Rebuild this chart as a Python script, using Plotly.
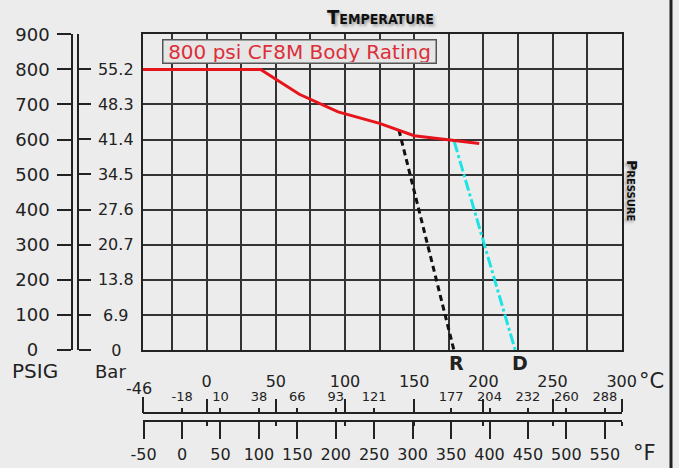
import plotly.graph_objects as go

W, H = 679, 468

# ---------------- data ----------------
series_name = "800 psi CF8M Body Rating"
rating_c = [-46, 39, 67, 95, 125, 150, 179, 197]
rating_psi = [800, 800, 729, 679, 646, 611, 597, 589]

r_c = [139, 178.7]
r_psi = [627, 0]
d_c = [179, 223]
d_psi = [594, 0]

psig_ticks = [0, 100, 200, 300, 400, 500, 600, 700, 800, 900]
bar_ticks = [0, 6.9, 13.8, 20.7, 27.6, 34.5, 41.4, 48.3, 55.2, 62.1]
c_major = [0, 50, 100, 150, 200, 250, 300]
c_edge = [-46]
f_ticks = [-50, 0, 50, 100, 150, 200, 250, 300, 350, 400, 450, 500, 550]
f_small = [0, 50, 100, 150, 200, 250, 350, 400, 450, 500, 550]

C_MIN, C_MAX = -46, 300
PSI_MAX = 900
BAR_PER_PSI = 0.0689476


def c2f(c):
    return c * 9 / 5 + 32


def f2c(f):
    return (f - 32) * 5 / 9


def px(x):
    return x / W


def py(y):
    return 1 - y / H


INK = "#222222"
GRID = "#333333"
BG = "#ececec"
FONT = "DejaVu Sans, Verdana, sans-serif"

psig_text = [str(v) if v else "0\u2007" for v in psig_ticks]
bar_text = []
for v in bar_ticks:
    s = ("%g" % v)
    if len(s) == 3:
        s = "\u2008" + s
    elif len(s) == 1:
        s = "\u2007\u2009" + s
    bar_text.append(s)

fig = go.Figure()


def dummy(xa, ya, xr):
    fig.add_trace(go.Scatter(x=xr, y=[0, 0], xaxis=xa, yaxis=ya, mode="markers",
                             marker=dict(opacity=0), hoverinfo="skip", showlegend=False))


# dummy traces so every helper axis is drawn
dummy("x2", "y", [C_MIN, C_MAX])
dummy("x3", "y", [C_MIN, C_MAX])
dummy("x4", "y", [C_MIN, C_MAX])
dummy("x5", "y", [c2f(C_MIN), c2f(C_MAX)])
dummy("x", "y2", [C_MIN, C_MAX])
dummy("x", "y3", [C_MIN, C_MAX])

# data lines
fig.add_trace(go.Scatter(x=r_c, y=r_psi, mode="lines", name="R",
                         line=dict(color="#111111", width=3, dash="6px,4px"), showlegend=False))
fig.add_trace(go.Scatter(x=d_c, y=d_psi, mode="lines", name="D",
                         line=dict(color="#1fe3e3", width=3, dash="11px,3px,3px,3px"), showlegend=False))
fig.add_trace(go.Scatter(x=rating_c, y=rating_psi, mode="lines", name=series_name,
                         line=dict(color="#e8141c", width=3), showlegend=False))

x_dom = [px(143), px(621.7)]
y_dom = [py(350), py(34.3)]
c_line_y = py(412.7)
f_line_y = py(421)

common_off = dict(showgrid=False, zeroline=False, fixedrange=True, automargin=False)

fig.update_layout(
    template="none",
    width=W, height=H, autosize=False,
    margin=dict(l=0, r=0, t=0, b=0, pad=0),
    paper_bgcolor=BG, plot_bgcolor=BG,
    font=dict(family=FONT, color=INK),
    xaxis=dict(domain=x_dom, range=[C_MIN, C_MAX], anchor="y",
               showgrid=True, gridcolor=GRID, gridwidth=1.6, tick0=0, dtick=25,
               showticklabels=False, ticks="", zeroline=False, automargin=False,
               showline=True, mirror=True, linecolor=INK, linewidth=2, fixedrange=True),
    yaxis=dict(domain=y_dom, range=[0, PSI_MAX], anchor="x",
               showgrid=True, gridcolor=GRID, gridwidth=1.6, tick0=0, dtick=100,
               showticklabels=False, ticks="", zeroline=False, automargin=False,
               showline=True, mirror=True, linecolor=INK, linewidth=2, fixedrange=True),
    # big Celsius labels
    xaxis2=dict(overlaying="x", anchor="free", position=c_line_y, side="top",
                range=[C_MIN, C_MAX], tickmode="array", tickvals=c_major,
                ticktext=[str(v) for v in c_major], ticks="outside", ticklen=13,
                tickwidth=1.5, tickcolor=INK, showline=True, linecolor=INK, linewidth=1.5,
                tickfont=dict(size=16, color=INK), ticklabelstandoff=6, **common_off),
    # small Celsius equivalents of Fahrenheit
    xaxis3=dict(overlaying="x", anchor="free", position=c_line_y, side="top",
                range=[C_MIN, C_MAX], tickmode="array", tickvals=[f2c(f) for f in f_small],
                ticktext=[str(round(f2c(f))) for f in f_small], ticks="outside", ticklen=5,
                tickwidth=1.5, tickcolor=INK, showline=False,
                tickfont=dict(size=13, color=INK), ticklabelstandoff=2, **common_off),
    # left edge label
    xaxis4=dict(overlaying="x", anchor="free", position=c_line_y, side="top",
                range=[C_MIN, C_MAX], tickmode="array", tickvals=c_edge,
                ticktext=[str(v) for v in c_edge], ticks="outside", ticklen=16,
                tickwidth=1.5, tickcolor=INK, showline=False,
                tickfont=dict(size=16, color=INK), ticklabelstandoff=-4,
                ticklabelshift=-4, **common_off),
    # Fahrenheit axis
    xaxis5=dict(overlaying="x", anchor="free", position=f_line_y, side="bottom",
                range=[c2f(C_MIN), c2f(C_MAX)], tickmode="array", tickvals=f_ticks,
                ticktext=[str(v) for v in f_ticks], ticks="outside", ticklen=17,
                tickwidth=1.5, tickcolor=INK, showline=True, linecolor=INK, linewidth=1.5,
                tickfont=dict(size=16, color=INK), ticklabelstandoff=2,
                minor=dict(tickmode="array", tickvals=[c2f(c) for c in c_major],
                           ticks="outside", ticklen=4, tickwidth=1.5, tickcolor=INK),
                **common_off),
    # PSIG axis
    yaxis2=dict(overlaying="y", anchor="free", position=px(72), side="left",
                range=[0, PSI_MAX], tickmode="array", tickvals=psig_ticks, ticktext=psig_text,
                ticks="outside", ticklen=14, tickwidth=1.5, tickcolor=INK,
                showline=True, linecolor=INK, linewidth=1.5,
                tickfont=dict(size=18, color=INK), ticklabelstandoff=4, **common_off),
    # Bar axis
    yaxis3=dict(overlaying="y", anchor="free", position=px(78), side="right",
                range=[0, PSI_MAX * BAR_PER_PSI], tickmode="array", tickvals=bar_ticks,
                ticktext=bar_text, ticks="outside", ticklen=12, tickwidth=1.5, tickcolor=INK,
                showline=True, linecolor=INK, linewidth=1.5,
                tickfont=dict(size=16, color=INK), ticklabelstandoff=4, **common_off),
    showlegend=False,
)

shadow = "2px 2px 3px rgba(0,0,0,0.35)"
annos = [
    dict(text=series_name, xref="paper", yref="paper", x=px(161.7), y=py(39.3),
         xanchor="left", yanchor="top", showarrow=False,
         width=271, height=21, align="center", valign="middle",
         font=dict(size=20, color="#dc2f3a", family=FONT),
         bgcolor="#e6e6e6", bordercolor="#555555", borderwidth=1.5, borderpad=0.5),
    dict(text="Temperature", xref="paper", yref="paper", x=px(380), y=py(17),
         xanchor="center", yanchor="middle", showarrow=False,
         font=dict(size=20, color="#111111", weight="bold", variant="small-caps",
                   family="DejaVu Sans Condensed, Liberation Sans Narrow, DejaVu Sans, sans-serif",
                   shadow=shadow)),
    dict(text="Pressure", xref="paper", yref="paper", x=px(632), y=py(191),
         xanchor="center", yanchor="middle", showarrow=False, textangle=90,
         font=dict(size=14, color="#111111", weight="bold", variant="small-caps",
                   family="DejaVu Sans, sans-serif", shadow=shadow)),
    dict(text="PSIG", xref="paper", yref="paper", x=px(35), y=py(371),
         xanchor="center", yanchor="middle", showarrow=False,
         font=dict(size=20, color=INK)),
    dict(text="Bar", xref="paper", yref="paper", x=px(110.5), y=py(371),
         xanchor="center", yanchor="middle", showarrow=False,
         font=dict(size=18, color=INK)),
    dict(text="°C", xref="paper", yref="paper", x=px(651.7), y=py(381),
         xanchor="center", yanchor="middle", showarrow=False,
         font=dict(size=21, color=INK)),
    dict(text="°F", xref="paper", yref="paper", x=px(644), y=py(453.3),
         xanchor="center", yanchor="middle", showarrow=False,
         font=dict(size=21, color=INK)),
    dict(text="<b>R</b>", xref="x", yref="y", x=r_c[-1], y=r_psi[-1], xshift=3, yshift=-13,
         xanchor="center", yanchor="middle", showarrow=False,
         font=dict(size=19, color=INK)),
    dict(text="<b>D</b>", xref="x", yref="y", x=d_c[-1], y=d_psi[-1], xshift=5, yshift=-13,
         xanchor="center", yanchor="middle", showarrow=False,
         font=dict(size=19, color=INK)),
]
fig.update_layout(annotations=annos)

# right frame edge of the graphic
fig.add_shape(type="rect", xref="paper", yref="paper", x0=px(669.5), x1=px(672.5), y0=0, y1=1,
              line=dict(width=0), fillcolor=INK, layer="above")

fig.write_html(
    "out.html",
    config={"displayModeBar": False},
    post_script="document.body.style.margin='0px';"
                "document.body.style.overflow='hidden';"
                "document.body.style.background='#ececec';",
)
